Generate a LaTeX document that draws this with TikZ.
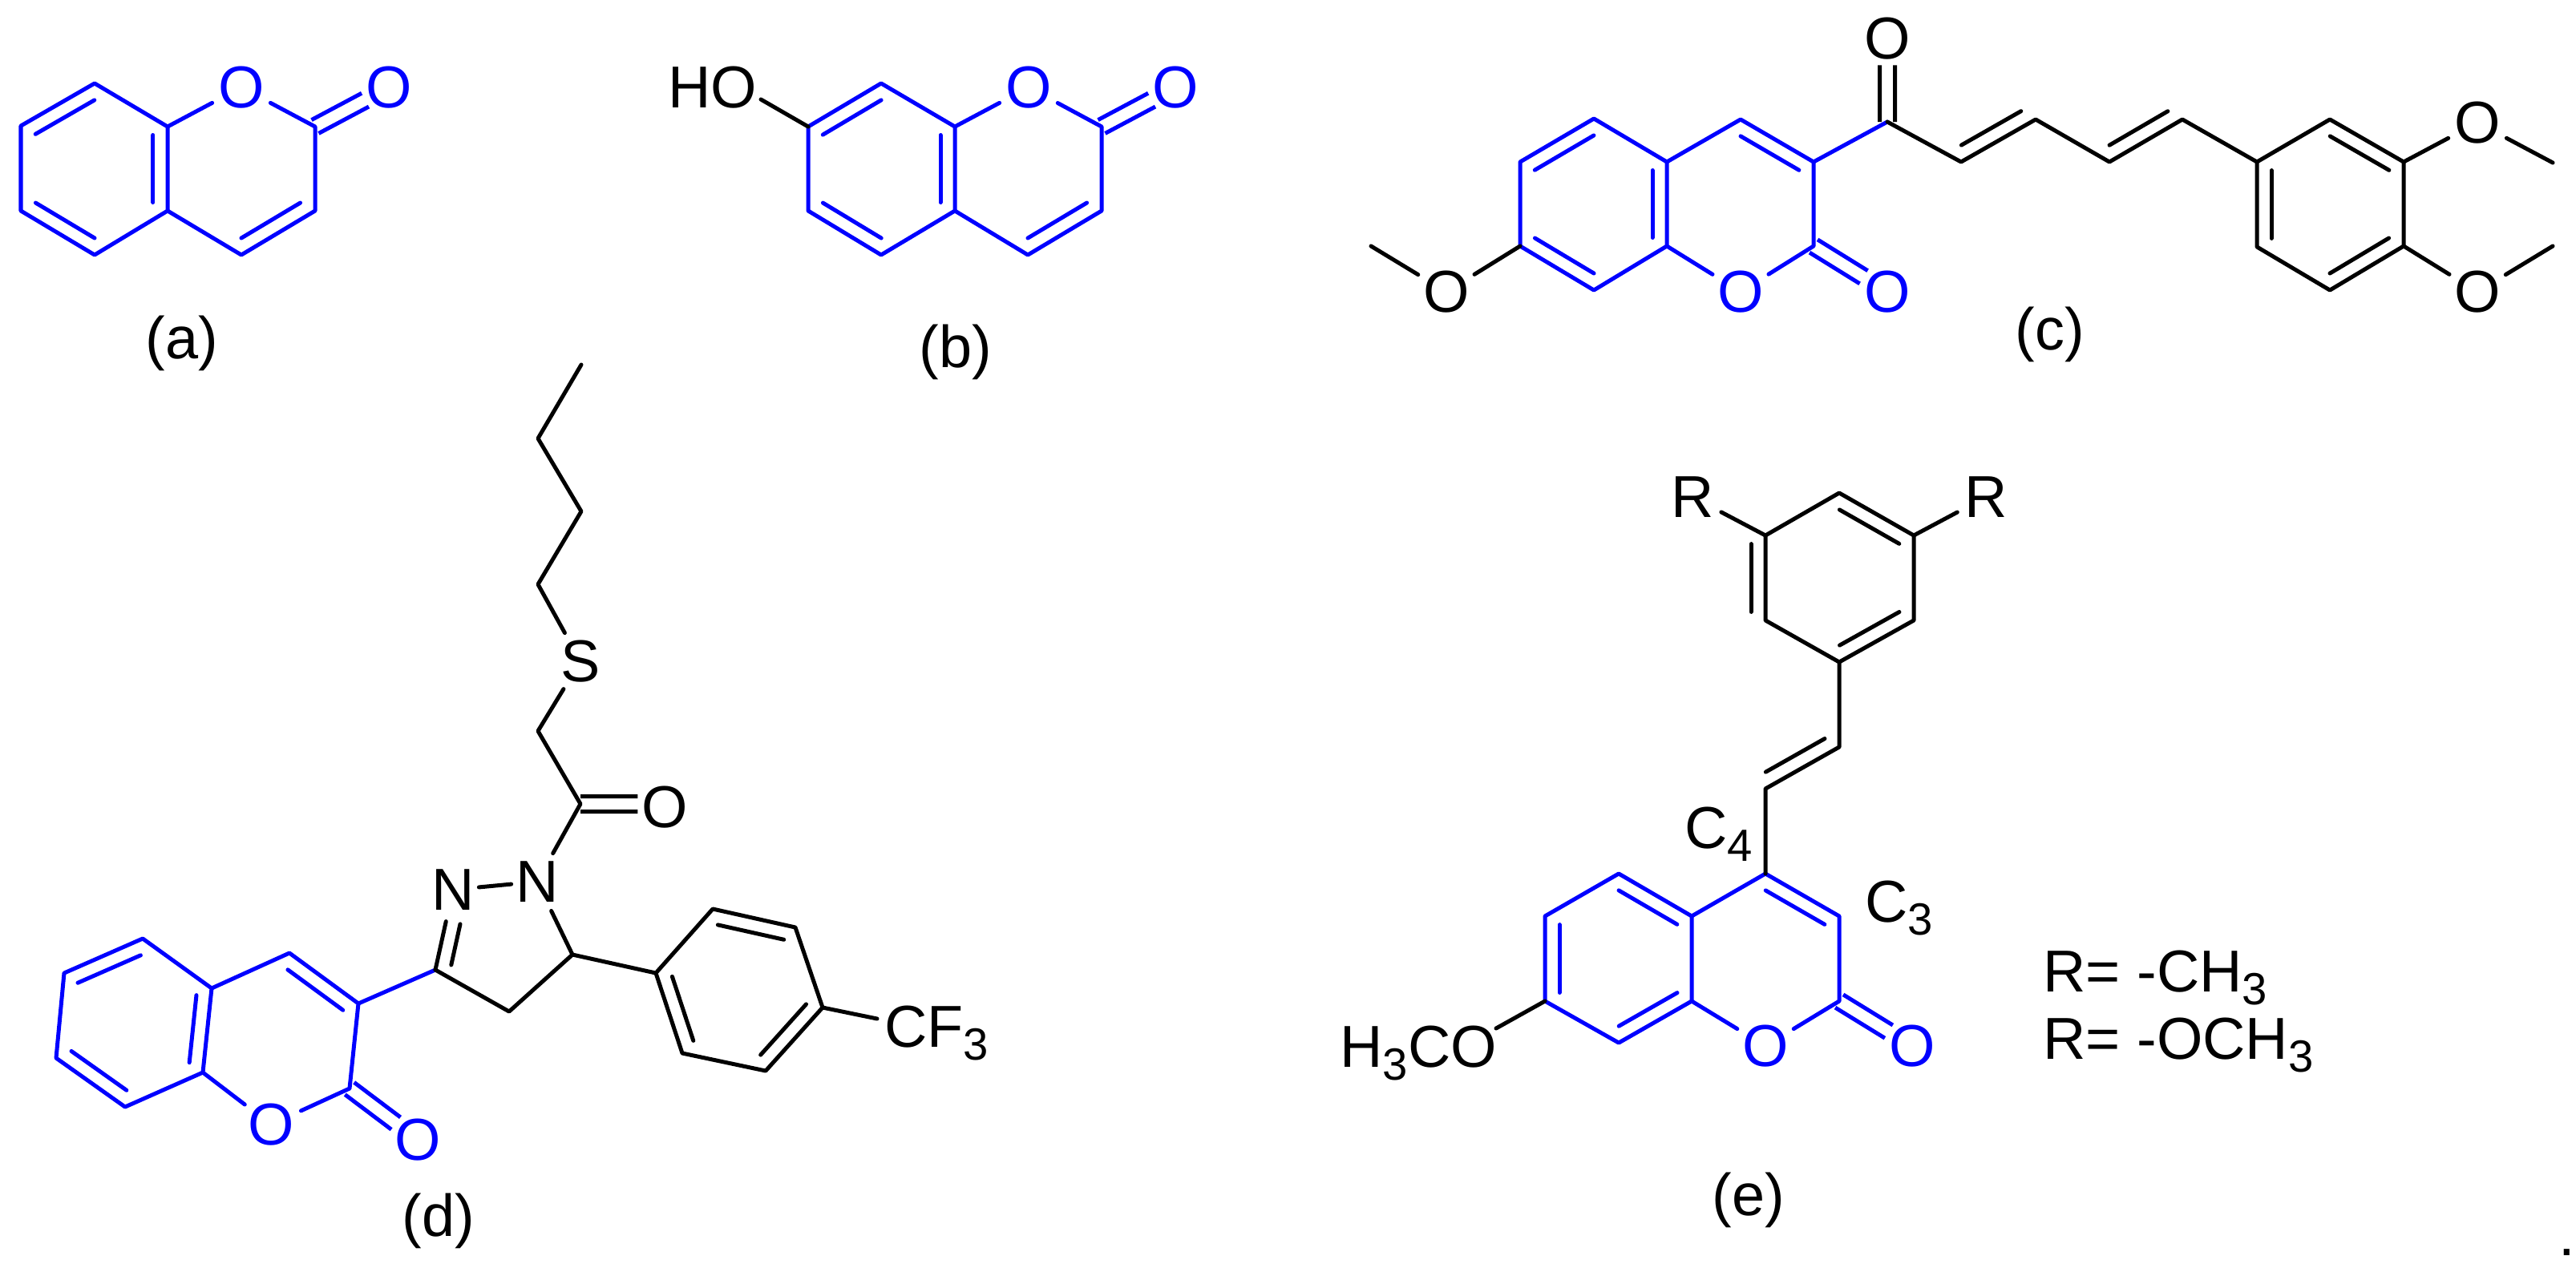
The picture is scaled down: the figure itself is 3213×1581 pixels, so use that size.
\documentclass[tikz,border=0pt]{standalone}
\usepackage{fontspec}
\setmainfont{Liberation Sans}
\usepackage{tikz}
\usetikzlibrary{calc}
\definecolor{ringblue}{RGB}{0,0,255}
\newcommand{\subn}[1]{\raisebox{-.22em}{\fontsize{16}{16}\selectfont #1}}
% inner line of a ring double bond, on the left of a->b
\newcommand{\ibond}[3][.1]{\draw ($(#2)!#1!(#3)!.18cm!90:(#3)$) -- ($(#2)!.9!(#3)!.18cm!90:(#3)$);}
% carbonyl, two lines either side of the axis
\newcommand{\cobond}[2]{
    \draw[line cap=butt] ($(#1)!0!(#2)!.095cm!90:(#2)$) -- ($(#1)!.68!(#2)!.095cm!90:(#2)$);
    \draw[line cap=butt] ($(#1)!0!(#2)!.095cm!-90:(#2)$) -- ($(#1)!.68!(#2)!.095cm!-90:(#2)$);}
\tikzset{
    atom/.style={circle, inner sep=0pt, minimum size=.76cm},
    formula/.style={anchor=base west, inner sep=0pt},
}

\begin{document}
\begin{tikzpicture}[x=.01cm, y=-.01cm, line width=.05cm, line join=round, line cap=round,
        every node/.style={font=\fontsize{21}{24}\selectfont}]
    \useasboundingbox (0,0) rectangle (3213,1581);

    % (a)
    \begin{scope}[color=ringblue]
        \foreach \n/\x/\y in {a1/118/104, a2/26/157, a3/26/263, a4/118/318, a5/209/263,
            a6/209/158, a7/393/158, a8/393/263, a9/301/318}
            \coordinate (\n) at (\x,\y);
        \node[atom] (aO1) at (301,109) {O};
        \node[atom] (aO2) at (485,109) {O};
        \draw (a6) -- (a1) -- (a2) -- (a3) -- (a4) -- (a5) -- cycle;
        \draw (a6) -- (aO1) -- (a7) -- (a8) -- (a9) -- (a5);
        \foreach \p/\q in {a1/a2, a3/a4, a5/a6, a9/a8} {\ibond{\p}{\q}}
        \cobond{a7}{aO2}
    \end{scope}
    \node (la) at (227,428) {(a)};

    % (b)
    \begin{scope}[color=ringblue]
        \foreach \n/\x/\y in {b1/1099/104, b2/1008/158, b3/1008/263, b4/1099/318, b5/1191/263,
            b6/1191/158, b7/1374/158, b8/1374/263, b9/1282/318}
            \coordinate (\n) at (\x,\y);
        \node[atom] (bO1) at (1283,109) {O};
        \node[atom] (bO2) at (1466,109) {O};
        \draw (b6) -- (b1) -- (b2) -- (b3) -- (b4) -- (b5) -- cycle;
        \draw (b6) -- (bO1) -- (b7) -- (b8) -- (b9) -- (b5);
        \foreach \p/\q in {b1/b2, b3/b4, b5/b6, b9/b8} {\ibond{\p}{\q}}
        \cobond{b7}{bO2}
    \end{scope}
    \node (bHO) at (889,109) {HO};
    \coordinate (bHOend) at (949,124);
    \draw (b2) -- (bHOend);
    \node (lb) at (1192,439) {(b)};

    % (c)
    \foreach \n/\x/\y in {c4/2171/149, c4a/2079/202, c5/1988/148, c6/1896/202, c7/1896/307,
        c8/1988/362, c8a/2079/307, c2/2262/307, c3/2262/202, cco/2354/152,
        cv1/2446/202, cv2/2539/149, cv3/2631/202, cv4/2722/149,
        cp1/2815/202, cp2/2906/149, cp3/2998/202, cp4/2998/307, cp5/2906/362, cp6/2815/308,
        cme1/1710/307, cme2/3184/203, cme3/3184/307}
        \coordinate (\n) at (\x,\y);
    \begin{scope}[color=ringblue]
        \node[atom] (cO1) at (2171,364) {O};
        \node[atom] (cO2) at (2354,364) {O};
        \draw (c4a) -- (c5) -- (c6) -- (c7) -- (c8) -- (c8a) -- cycle;
        \draw (c8a) -- (cO1) -- (c2) -- (c3) -- (c4) -- (c4a);
        \draw (c3) -- (cco);
        \foreach \p/\q in {c5/c6, c7/c8, c8a/c4a, c3/c4} {\ibond{\p}{\q}}
        \cobond{c2}{cO2}
    \end{scope}
    \node[atom] (cO3) at (2354,48) {O};
    \node[atom] (cO4) at (1804,364) {O};
    \node[atom] (cO5) at (3090,153) {O};
    \node[atom] (cO6) at (3090,364) {O};
    \cobond{cco}{cO3}
    \draw (c7) -- (cO4) -- (cme1);
    \draw (cco) -- (cv1) -- (cv2) -- (cv3) -- (cv4) -- (cp1);
    \draw (cp1) -- (cp2) -- (cp3) -- (cp4) -- (cp5) -- (cp6) -- cycle;
    \draw (cp3) -- (cO5) -- (cme2);
    \draw (cp4) -- (cO6) -- (cme3);
    \foreach \p/\q in {cv1/cv2, cv3/cv4, cp3/cp2, cp1/cp6, cp5/cp4} {\ibond{\p}{\q}}
    \node (lc) at (2557,417) {(c)};

    % (d)
    \foreach \n/\x/\y in {d3/447/1252, d4/361/1189, d4a/264/1233, d5/178/1171, d6/80/1214,
        d7/70/1320, d8/156/1381, d8a/253/1338, d2/436/1358,
        dz3/543/1210, dz4/635/1262, dz5/714/1191,
        dp1/818/1214, dp2/889/1134, dp3/992/1157, dp4/1026/1257, dp5/955/1336, dp6/851/1314,
        dco/724/1003, dcoend/829/1003, ds1/671/912, dc1/671/729, dc2/725/638, dc3/671/547,
        dc4/725/455, dcf/1094/1271}
        \coordinate (\n) at (\x,\y);
    \begin{scope}[color=ringblue]
        \node[atom] (dO1) at (338,1403) {O};
        \node[atom] (dO2) at (521,1422) {O};
        \draw (d4a) -- (d5) -- (d6) -- (d7) -- (d8) -- (d8a) -- cycle;
        \draw (d8a) -- (dO1) -- (d2) -- (d3) -- (d4) -- (d4a);
        \foreach \p/\q in {d5/d6, d7/d8, d8a/d4a, d3/d4} {\ibond{\p}{\q}}
        \cobond{d2}{dO2}
    \end{scope}
    \node[atom] (dN1) at (565,1110) {N};
    \node[atom] (dN2) at (670,1100) {N};
    \node[atom] (dS) at (724,825) {S};
    \node[atom] (dO3) at (829,1007) {O};
    \draw[color=ringblue] (d3) -- (dz3);
    \draw (dz3) -- (dz4) -- (dz5) -- (dN2);
    \draw (dz3) -- (dN1);
    \draw[shorten <=-.08cm, shorten >=-.08cm] (dN1) -- (dN2);
    \draw (dN2) -- (dco) -- (ds1) -- (dS) -- (dc1) -- (dc2) -- (dc3) -- (dc4);
    \draw (dz5) -- (dp1);
    \draw (dp1) -- (dp2) -- (dp3) -- (dp4) -- (dp5) -- (dp6) -- cycle;
    \draw (dp4) -- (dcf);
    \ibond[.39]{dN1}{dz3}
    \foreach \p/\q in {dp3/dp2, dp1/dp6, dp5/dp4} {\ibond{\p}{\q}}
    \cobond{dco}{dcoend}
    \node[formula] (dCF) at (1101,1306) {CF\subn{3}};
    \node (ld) at (547,1523) {(d)};

    % (e)
    \foreach \n/\x/\y in {e4/2202/1090, e3/2294/1143, e2/2294/1249, e8a/2110/1249, e4a/2110/1143,
        e5/2019/1090, e6/1927/1143, e7/1927/1249, e8/2019/1301,
        ev1/2202/984, ev2/2294/932,
        ep1/2294/826, ep2/2202/774, ep3/2202/668, ep4/2294/615, ep5/2387/668, ep6/2387/774,
        eme/1866/1283}
        \coordinate (\n) at (\x,\y);
    \begin{scope}[color=ringblue]
        \node[atom] (eO1) at (2202,1305) {O};
        \node[atom] (eO2) at (2385,1305) {O};
        \draw (e4a) -- (e5) -- (e6) -- (e7) -- (e8) -- (e8a) -- cycle;
        \draw (e8a) -- (eO1) -- (e2) -- (e3) -- (e4) -- (e4a);
        \foreach \p/\q in {e4a/e5, e6/e7, e8/e8a, e3/e4} {\ibond{\p}{\q}}
        \cobond{e2}{eO2}
    \end{scope}
    \node[atom] (eR1) at (2111,620) {R};
    \node[atom] (eR2) at (2477,620) {R};
    \draw (e4) -- (ev1) -- (ev2) -- (ep1);
    \draw (ep1) -- (ep2) -- (ep3) -- (ep4) -- (ep5) -- (ep6) -- cycle;
    \draw (ep3) -- (eR1);
    \draw (ep5) -- (eR2);
    \draw (e7) -- (eme);
    \foreach \p/\q in {ev1/ev2, ep5/ep4, ep2/ep3, ep1/ep6} {\ibond{\p}{\q}}
    \node[formula] (eOMe) at (1669,1331) {H\subn{3}CO};
    \node[formula] (eC4) at (2099,1058) {C\subn{4}};
    \node[formula] (eC3) at (2324,1150) {C\subn{3}};
    \node[formula] (eRa) at (2546,1237) {R= -CH\subn{3}};
    \node[formula] (eRb) at (2546,1321) {R= -OCH\subn{3}};
    \node (le) at (2181,1497) {(e)};
    \node[inner sep=0pt] (dot) at (3202,1563) {.};
\end{tikzpicture}
\end{document}
